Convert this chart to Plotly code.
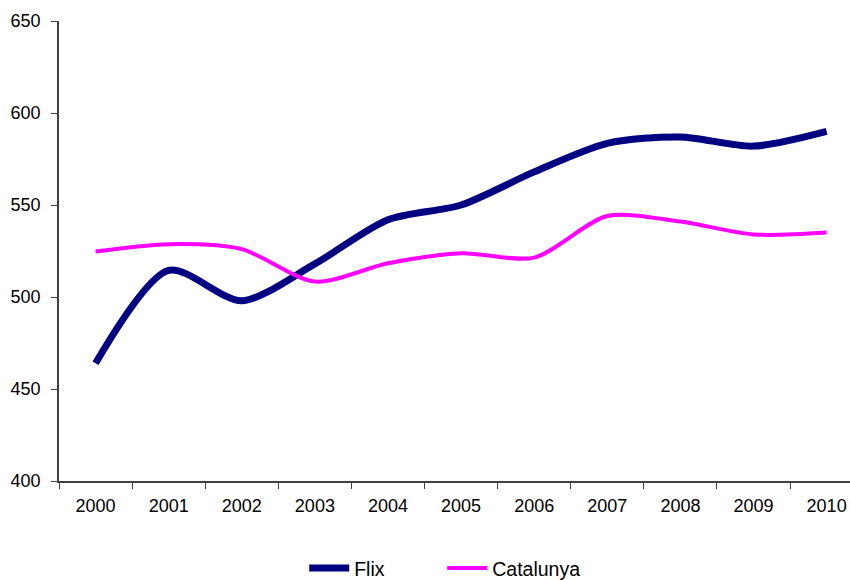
import plotly.graph_objects as go

years = ["2000", "2001", "2002", "2003", "2004", "2005", "2006", "2007", "2008", "2009", "2010"]
flix = [464, 514.5, 498, 518, 542, 550, 568, 583.5, 587, 582, 590]
catalunya = [524.7, 528.7, 526, 508.4, 518.3, 523.8, 521.4, 544, 541, 534, 535]

fig = go.Figure()
fig.add_trace(go.Scatter(x=years, y=flix, name="Flix", mode="lines",
                         line=dict(color="#000080", width=7, shape="spline", smoothing=0.8)))
fig.add_trace(go.Scatter(x=years, y=catalunya, name="Catalunya", mode="lines",
                         line=dict(color="#FF00FF", width=4, shape="spline", smoothing=0.8)))

axis_color = "#404040"
fig.update_layout(
    width=850, height=580,
    margin=dict(l=59, r=0, t=21, b=99),
    paper_bgcolor="white", plot_bgcolor="white",
    font=dict(family="Liberation Sans, Arial, sans-serif", size=18, color="black"),
    showlegend=True,
    legend=dict(orientation="h", x=0.31, xanchor="left",
                yref="container", y=0.02, yanchor="middle",
                entrywidth=83, entrywidthmode="pixels", font=dict(size=19.5),
                itemwidth=40, tracegroupgap=0),
    xaxis=dict(type="category", range=[-0.5, 10.32], tickson="boundaries",
               automargin=False,
               showline=True, linecolor=axis_color, linewidth=1.5,
               ticks="outside", ticklen=6, tickcolor=axis_color,
               ticklabelstandoff=8,
               showgrid=False, zeroline=False, tickfont=dict(size=18)),
    yaxis=dict(range=[400, 650], dtick=50, automargin=False,
               showline=True, linecolor=axis_color, linewidth=1.5,
               ticks="outside", ticklen=6, tickcolor=axis_color,
               ticklabelstandoff=7,
               showgrid=False, zeroline=False, tickfont=dict(size=18)),
)

fig.write_html("out.html", config={"displayModeBar": False},
               post_script=("document.body.style.margin='0';document.body.style.padding='0';"
                            "document.body.style.overflow='hidden';"))
